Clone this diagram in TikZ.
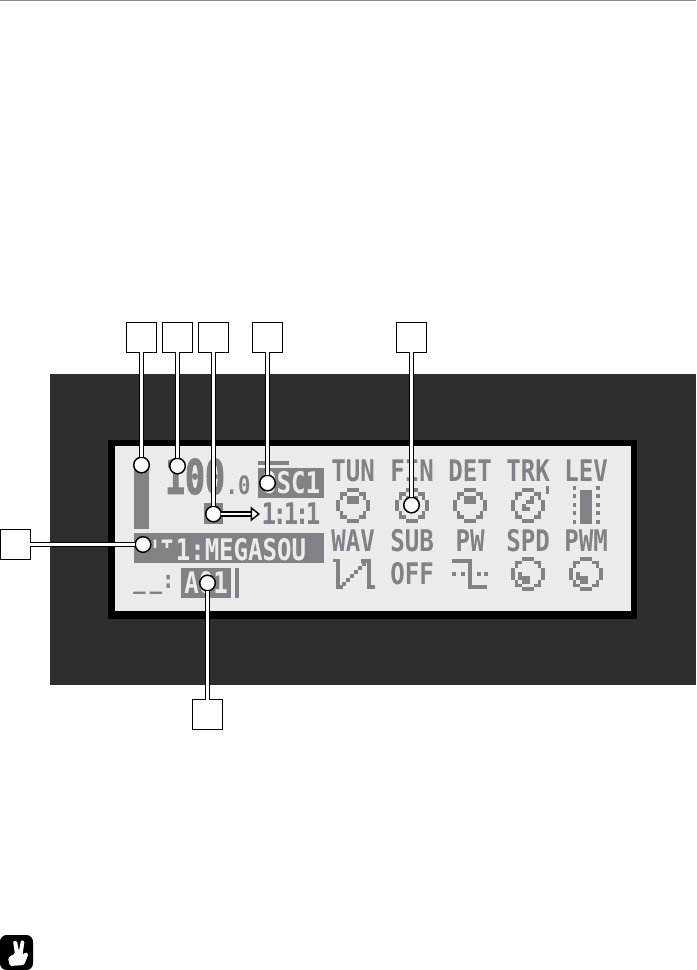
\documentclass[tikz,border=0pt]{standalone}
\usepackage{xcolor}
\usepackage{fontspec}
\usepackage{tikz}
\usetikzlibrary{
  arrows.meta,
  positioning
}
\newfontfamily\lcdfont{DejaVu Sans Mono}[FakeStretch=0.81]
\newfontfamily\lcdbigfont{DejaVu Sans Mono}[FakeStretch=0.69,FakeBold=2]
\newfontfamily\lcdcutfont{Liberation Sans}[FakeStretch=0.6]
\definecolor{lcdGray}{HTML}{808285}
\definecolor{lcdPaper}{HTML}{EBEBEB}
\definecolor{lcdCase}{HTML}{2E2E2E}
\tikzset{
  lcdlabel/.style={
    font=\fontsize{22.3pt}{24pt}\lcdfont\bfseries, text=lcdGray, inner sep=0pt
  },
  lcdinverse/.style={lcdlabel, text=lcdPaper},
  lcdsmall/.style={lcdlabel, font=\fontsize{19pt}{21pt}\lcdfont\bfseries},
  lcdbig/.style={lcdlabel, font=\fontsize{36pt}{38pt}\lcdbigfont\bfseries},
  callbox/.style={draw, fill=white, line width=1pt, minimum size=22.2pt, inner sep=0pt, outer sep=0pt},
  calldot/.style={draw, circle, fill=white, line width=1.1pt, minimum size=11.7pt, inner sep=0pt, outer sep=0pt},
  callline/.style={draw=black, line width=1.1pt, double=white, double distance=1.6pt},
  lcdline/.style={draw=lcdGray, line width=2.8pt},
  pics/lcdknob/.style={code={
    \foreach \i/\j in {-1/-4,0/-4,1/-4,-2/-3,2/-3,-3/-3,3/-3,-3/-2,3/-2,-4/-1,-4/0,-4/1,4/-1,4/0,4/1,
      -3/2,3/2,-3/3,3/3,-2/3,2/3,-1/4,0/4,1/4,#1} {
      \fill[lcdGray] (\i*3.85-1.93,\j*3.85-1.93) rectangle ++(3.86,3.86);
    }
  }}
}
\begin{document}
\begin{tikzpicture}[x=0.75pt,y=-0.75pt]
  \useasboundingbox (0,0) rectangle (696,970);
  \draw[black!45, line width=0.6pt] (0,0.5) -- (696,0.5);
  % case and screen
  \fill[lcdCase] (50,374) rectangle (696,685);
  \fill[black] (108,440) rectangle (637,619);
  \fill[lcdPaper] (115,446) rectangle (631,611);
  % left column
  \fill[lcdGray] (134,465) rectangle (149,529);
  \fill[lcdGray] (258,461) rectangle (289,464.5);
  \fill[lcdGray] (258,468) rectangle (324,498);
  \fill[lcdGray] (204,503) rectangle (223,524);
  \fill[lcdGray] (134,533) rectangle (324,563);
  \fill[lcdGray] (181,568) rectangle (231,598);
  \fill[lcdGray] (235,568) rectangle (239,598);
  \node[lcdbig] (tempo) at (195,476.5) {100};
  \node[lcdsmall] (tempofrac) at (238,485) {.0};
  \node[lcdinverse] (osc) at (291,483) {OSC1};
  \node[lcdlabel] (trig) at (291,514) {1\kern-2.6pt:\kern-2.6pt1\kern-2.6pt:\kern-2.6pt1};
  \begin{scope}
    \clip (150,539) rectangle (175,547.5);
    \node[lcdinverse, font=\fontsize{22.3pt}{24pt}\lcdcutfont\bfseries] (unit) at (162.5,550.5) {I\kern3pt T};
  \end{scope}
  \node[lcdinverse] (sound) at (241,549.5) {1:MEGASOU};
  \node[lcdsmall, anchor=base] (rate) at (154,588) {\_\kern3pt\_:};
  \node[lcdinverse] (ptn) at (206,583) {A01};
  % parameter labels
  \node[lcdlabel] (tun) at (353,471) {TUN};
  \node[lcdlabel] (fin) at (412,471) {FIN};
  \node[lcdlabel] (det) at (470,471) {DET};
  \node[lcdlabel] (trk) at (528,471) {TRK};
  \node[lcdlabel] (lev) at (586,471) {LEV};
  \node[lcdlabel] (wav) at (353,540.5) {WAV};
  \node[lcdlabel] (sub) at (412,540.5) {SUB};
  \node[lcdlabel] (pw) at (470,540.5) {PW};
  \node[lcdlabel] (spd) at (528,540.5) {SPD};
  \node[lcdlabel] (pwm) at (586,540.5) {PWM};
  \node[lcdlabel] (off) at (412,574) {OFF};
  % knobs
  \pic at (353,505.5) {lcdknob={-1/-2,0/-2,1/-2,-1/-1,0/-1,1/-1}};
  \pic at (412,505.5) {lcdknob={-1/-2,0/-2,1/-2}};
  \pic at (470,505.5) {lcdknob={-1/-2,0/-2,1/-2,-1/-1,0/-1,1/-1}};
  \pic at (528,505.5) {lcdknob={-1/1,0/1,-1/0,0/-1,1/-1,1/-2}};
  \pic at (528,574) {lcdknob={-2/0,-2/1,-1/1,0/1,-1/2,0/2}};
  \pic at (586,574) {lcdknob={-2/0,-2/1,-1/1,0/1,-1/2,0/2}};
  \fill[lcdGray] (546,486) rectangle (549,494);
  % level meter
  \fill[lcdGray] (580,490) rectangle (592,524);
  \foreach \y in {486,494.3,502.6,511,519.5} {
    \fill[lcdGray] (573,\y) rectangle ++(3.2,4);
    \fill[lcdGray] (596,\y) rectangle ++(3.6,4);
  }
  % waveforms
  \draw[lcdline] (333,560.5) -- (338,560.5) -- (338,587) -- (343,587);
  \draw[lcdline] (361,561) -- (369,561) -- (369,587) -- (375,587);
  \foreach \x/\y in {342/582,346/578,350/574,354/570,358/566,362/562} {
    \fill[lcdGray] (\x,\y) rectangle ++(3.85,3.85);
  }
  \draw[lcdline] (452,561) -- (470,561) -- (470,587) -- (487,587);
  \foreach \x in {452,461,477,484} {
    \fill[lcdGray] (\x,572) rectangle ++(4,4);
  }
  % callouts
  \node[callbox] (boxa) at (141.5,337.5) {};
  \node[callbox] (boxb) at (177.5,337.5) {};
  \node[callbox] (boxc) at (213.5,337.5) {};
  \node[callbox] (boxd) at (267.5,337.5) {};
  \node[callbox] (boxe) at (411.5,337.5) {};
  \node[callbox] (boxf) at (15.5,544.5) {};
  \node[callbox] (boxg) at (207.5,714.5) {};
  \node[calldot] (dota) at (141.5,465) {};
  \node[calldot] (dotb) at (177.5,466) {};
  \node[calldot] (dotc) at (213.5,514) {};
  \node[calldot] (dotd) at (267.5,483) {};
  \node[calldot] (dote) at (411.5,505) {};
  \node[calldot] (dotf) at (143,544.5) {};
  \node[calldot] (dotg) at (207.5,583) {};
  \coordinate (arrowend) at (260,514);
  \draw[callline] (boxa) -- (dota);
  \draw[callline] (boxb) -- (dotb);
  \draw[callline] (boxc) -- (dotc);
  \draw[callline] (boxd) -- (dotd);
  \draw[callline] (boxe) -- (dote);
  \draw[callline] (boxf) -- (dotf);
  \draw[callline] (boxg) -- (dotg);
  \draw[callline, -{Triangle[open, length=7pt, width=11pt, fill=white]}] (dotc) -- (arrowend);
  % hand icon
  \fill[black, rounded corners=5pt] (0,935) rectangle (33,970);
  \fill[white, rounded corners=1pt] (13,941) -- (17,941) -- (19,951) -- (21,940) -- (24.5,941) -- (22.5,955)
    -- (26,952) -- (28.5,954) -- (24,965) -- (10,966) -- (8,958) -- (12,955) -- (15,954) -- cycle;
\end{tikzpicture}
\end{document}
